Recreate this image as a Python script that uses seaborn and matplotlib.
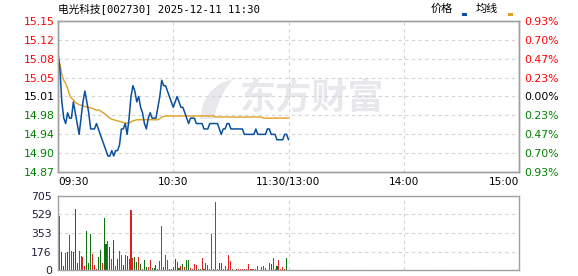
import numpy as np
import pandas as pd
import matplotlib
matplotlib.use("Agg")
import matplotlib.pyplot as plt
import seaborn as sns
from matplotlib.patches import Rectangle, Polygon

# ---------------- data ----------------
title_text = "电光科技[002730] 2025-12-11 11:30"
legend_price = "价格"
legend_avg = "均线"
watermark = "东方财富"
pre_close = 15.01
pct_range = 0.0093
price_tick_labels = ['15.15', '15.12', '15.08', '15.05', '15.01', '14.98', '14.94', '14.90', '14.87']
pct_tick_labels = ['0.93%', '0.70%', '0.47%', '0.23%', '0.00%', '0.23%', '0.47%', '0.70%', '0.93%']
time_tick_minutes = [0, 60, 120, 180, 240]
time_tick_labels = ['09:30', '10:30', '11:30/13:00', '14:00', '15:00']
vol_tick_values = [0, 176, 353, 529, 705]
vol_tick_labels = ['0', '176', '353', '529', '705']

price = [
    15.09, 15.06, 15.00, 14.97, 14.96, 14.98, 14.97, 14.97, 15.00, 14.98,
    14.96, 14.94, 14.97, 15.00, 15.02, 15.00, 14.98, 14.95, 14.95, 14.95,
    14.96, 14.95, 14.94, 14.93, 14.92, 14.91, 14.90, 14.90, 14.91, 14.90,
    14.91, 14.91, 14.92, 14.95, 14.95, 14.96, 14.94, 14.97, 15.01, 15.03,
    15.02, 15.00, 15.01, 14.99, 14.98, 14.96, 14.95, 14.97, 14.98, 14.97,
    14.97, 14.97, 14.99, 15.01, 15.04, 15.03, 15.03, 15.02, 15.01, 15.00,
    14.99, 15.00, 15.01, 15.00, 14.99, 14.99, 14.98, 14.97, 14.96, 14.97,
    14.97, 14.97, 14.96, 14.96, 14.96, 14.96, 14.95, 14.95, 14.95, 14.96,
    14.96, 14.96, 14.96, 14.96, 14.95, 14.94, 14.95, 14.95, 14.96, 14.96,
    14.95, 14.95, 14.95, 14.95, 14.95, 14.95, 14.95, 14.94, 14.94, 14.94,
    14.94, 14.94, 14.94, 14.95, 14.94, 14.94, 14.94, 14.94, 14.94, 14.95,
    14.95, 14.94, 14.94, 14.94, 14.93, 14.93, 14.93, 14.93, 14.94, 14.94,
    14.93,
]

avg_price = [
    15.080, 15.070, 15.050, 15.040, 15.034, 15.025, 15.013, 15.007, 15.004, 14.999,
    14.997, 14.995, 14.994, 14.993, 14.991, 14.991, 14.990, 14.989, 14.988, 14.986,
    14.985, 14.985, 14.984, 14.981, 14.979, 14.976, 14.973, 14.970, 14.968, 14.967,
    14.966, 14.965, 14.964, 14.963, 14.962, 14.961, 14.961, 14.961, 14.963, 14.965,
    14.966, 14.967, 14.967, 14.967, 14.967, 14.967, 14.967, 14.967, 14.967, 14.967,
    14.967, 14.967, 14.967, 14.969, 14.972, 14.973, 14.974, 14.974, 14.974, 14.974,
    14.974, 14.974, 14.974, 14.974, 14.974, 14.974, 14.974, 14.974, 14.974, 14.974,
    14.974, 14.974, 14.974, 14.974, 14.974, 14.974, 14.974, 14.974, 14.974, 14.974,
    14.974, 14.974, 14.972, 14.972, 14.972, 14.972, 14.972, 14.972, 14.972, 14.972,
    14.972, 14.972, 14.972, 14.972, 14.972, 14.972, 14.972, 14.972, 14.972, 14.972,
    14.972, 14.972, 14.972, 14.972, 14.972, 14.972, 14.972, 14.970, 14.970, 14.970,
    14.970, 14.970, 14.970, 14.970, 14.970, 14.970, 14.970, 14.970, 14.970, 14.970,
    14.970,
]

volume = [
    518, 171, 38, 162, 168, 337, 184, 171, 581, 64,
    181, 137, 127, 38, 372, 64, 343, 152, 48, 10,
    124, 191, 64, 495, 248, 276, 219, 105, 286, 38,
    105, 181, 143, 48, 143, 133, 105, 572, 118, 127,
    76, 124, 57, 10, 95, 32, 29, 95, 16, 16,
    48, 10, 86, 419, 32, 143, 95, 10, 10, 32,
    105, 76, 16, 38, 57, 29, 95, 95, 19, 10,
    57, 48, 10, 10, 114, 10, 67, 48, 5, 343,
    10, 648, 10, 67, 67, 10, 38, 10, 143, 86,
    10, 0, 10, 10, 10, 10, 10, 10, 57, 10,
    10, 10, 10, 38, 0, 29, 38, 19, 0, 67,
    57, 114, 10, 38, 95, 10, 29, 10, 114,
]

vol_dir = [
    'up', 'down', 'down', 'up', 'down', 'up', 'up', 'down', 'down', 'down',
    'up', 'up', 'up', 'up', 'down', 'down', 'down', 'up', 'up', 'up',
    'down', 'down', 'up', 'down', 'down', 'up', 'down', 'up', 'down', 'up',
    'down', 'up', 'up', 'down', 'up', 'down', 'up', 'up', 'up', 'down',
    'down', 'up', 'down', 'up', 'down', 'down', 'up', 'up', 'down', 'down',
    'down', 'down', 'up', 'up', 'down', 'up', 'up', 'down', 'down', 'down',
    'down', 'up', 'down', 'up', 'down', 'up', 'down', 'down', 'up', 'up',
    'up', 'up', 'down', 'down', 'up', 'up', 'up', 'up', 'up', 'up',
    'up', 'up', 'up', 'down', 'down', 'up', 'up', 'up', 'up', 'up',
    'down', 'up', 'up', 'up', 'up', 'up', 'up', 'up', 'up', 'up',
    'up', 'up', 'up', 'up', 'up', 'up', 'up', 'up', 'up', 'up',
    'down', 'up', 'up', 'down', 'up', 'up', 'up', 'up', 'down',
]

# ---------------- style ----------------
sns.set_style("white")
plt.rcParams['font.family'] = ['DejaVu Sans', 'Noto Sans CJK SC']
RED = '#ff0000'
GREEN = '#008000'
BLUE = '#0a4fa0'
GOLD = '#e0a020'
SPINE = '#a0a0a0'
GRID = '#d4d4d4'
WM = '#e8e8ec'

W, H = 578, 276
fig = plt.figure(figsize=(W / 100, H / 100), dpi=100)
fig.patch.set_facecolor('white')

def fx(px):
    return px / W

def fy(py):
    return 1 - py / H

ax1 = fig.add_axes([fx(58), fy(172), fx(519) - fx(58), fy(21) - fy(172)])
ax2 = fig.add_axes([fx(58), fy(270), fx(519) - fx(58), fy(196) - fy(270)])

df_price = pd.DataFrame({'minute': np.arange(len(price)), 'price': price, 'avg': avg_price})
df_vol = pd.DataFrame({'minute': np.arange(1, len(volume) + 1), 'volume': volume, 'dir': vol_dir})

# watermark (logo swoosh + text), behind the data
swoosh = [(200, 119), (203, 104), (210, 92), (221, 83), (233, 79), (226, 88),
          (220, 99), (216, 110), (214, 119)]
ax1.add_patch(Polygon([(fx(x), fy(y)) for x, y in swoosh], closed=True,
                      transform=fig.transFigure, color=WM, lw=0, zorder=0))
ax1.text(0.395, 0.49, watermark, transform=ax1.transAxes, fontsize=26, fontweight='bold',
         family=['Noto Sans CJK SC'], color=WM, ha='left', va='center', zorder=0)

sns.lineplot(data=df_price, x='minute', y='avg', ax=ax1, color=GOLD, lw=1.0, zorder=3)
sns.lineplot(data=df_price, x='minute', y='price', ax=ax1, color=BLUE, lw=1.1, zorder=4)

lo = pre_close * (1 - pct_range)
hi = pre_close * (1 + pct_range)
ax1.set_ylim(lo, hi)
ax1.set_xlim(0, 240)
yt = np.linspace(hi, lo, len(price_tick_labels))
ax1.set_yticks(yt)
ax1.set_yticklabels(price_tick_labels)
ax1.set_xticks(time_tick_minutes)
ax1.set_xticklabels(time_tick_labels)
ax1.set_xlabel('')
ax1.set_ylabel('')
ax1.tick_params(axis='y', length=0, pad=2.5, labelsize=7.8)
ax1.tick_params(axis='x', length=0, pad=3.5, labelsize=7.6, labelcolor='black')
xl = ax1.get_xticklabels()
xl[0].set_ha('left')
xl[-1].set_ha('right')

def col(i, n):
    mid = (n - 1) // 2
    if i < mid:
        return RED
    if i > mid:
        return GREEN
    return 'black'

for i, t in enumerate(ax1.get_yticklabels()):
    t.set_color(col(i, len(price_tick_labels)))

ax1.grid(True, axis='both', color=GRID, ls=(0, (3, 3)), lw=0.8, zorder=1)
ax1.set_axisbelow(True)

axr = ax1.twinx()
axr.set_ylim(lo, hi)
axr.set_yticks(yt)
axr.set_yticklabels(pct_tick_labels)
axr.tick_params(axis='y', length=0, pad=3.5, labelsize=7.8)
for i, t in enumerate(axr.get_yticklabels()):
    t.set_color(col(i, len(pct_tick_labels)))

for a in (ax1, axr, ax2):
    for s in a.spines.values():
        s.set_color(SPINE)
        s.set_linewidth(1.0)

# volume
sns.barplot(data=df_vol, x='minute', y='volume', hue='dir',
            palette={'up': RED, 'down': GREEN}, native_scale=True, dodge=False,
            width=0.55, errorbar=None, legend=False, linewidth=0, ax=ax2)
for p in ax2.patches:
    p.set_antialiased(False)
ax2.set_xlim(0, 240)
ax2.set_ylim(0, 705)
ax2.set_xticks(time_tick_minutes)
ax2.set_xticklabels([])
ax2.set_yticks(vol_tick_values)
ax2.set_yticklabels(vol_tick_labels)
ax2.set_xlabel('')
ax2.set_ylabel('')
ax2.tick_params(axis='both', length=0)
ax2.tick_params(axis='y', pad=4.5, labelsize=7.8, labelcolor='#202040')
ax2.grid(True, axis='both', color=GRID, ls=(0, (3, 3)), lw=0.8)
ax2.set_axisbelow(True)

# title and legend
fig.text(fx(58), fy(9), title_text, family=['DejaVu Sans Mono', 'Noto Sans CJK SC'],
         fontsize=7.7, ha='left', va='center', color='black')
fig.text(fx(431), fy(9), legend_price, family=['Noto Sans CJK SC'], fontsize=8,
         ha='left', va='center', color='black')
fig.text(fx(476), fy(9), legend_avg, family=['Noto Sans CJK SC'], fontsize=8,
         ha='left', va='center', color='black')
fig.add_artist(Rectangle((fx(462), fy(16)), fx(5), 3 / H, transform=fig.transFigure,
                         color=BLUE, lw=0))
fig.add_artist(Rectangle((fx(508), fy(16)), fx(5), 3 / H, transform=fig.transFigure,
                         color=GOLD, lw=0))

fig.savefig('out.png', dpi=100, facecolor='white')
